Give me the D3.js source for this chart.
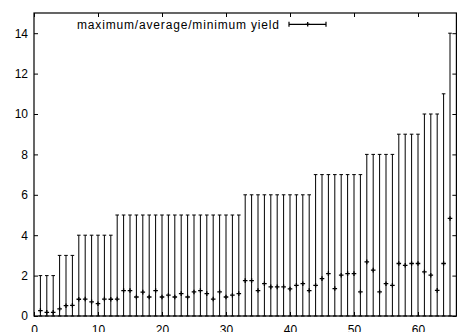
<!DOCTYPE html>
<html lang="en">
<head>
    <meta charset="UTF-8">
    <title>maximum/average/minimum yield</title>
    <script src="https://d3js.org/d3.v7.min.js"></script>
    <style>
        body { margin: 0; background: white; }
        svg { display: block; }
        .axis text { font-family: "Liberation Sans", Arial, sans-serif; font-size: 12px; fill: black; }
        .axis line { stroke: black; }
        .bar { stroke: black; stroke-width: 1; }
        .avg { stroke: black; stroke-width: 1.3; }
        .legend text { font-family: "Liberation Sans", Arial, sans-serif; font-size: 12px; }
    </style>
</head>
<body>
    <svg width="457" height="332"></svg>
    <script>
        const xs = [1, 2, 3, 4, 5, 6, 7, 8, 9, 10, 11, 12, 13, 14, 15, 16, 17, 18, 19, 20,
            21, 22, 23, 24, 25, 26, 27, 28, 29, 30, 31, 32, 33, 34, 35, 36, 37, 38, 39, 40,
            41, 42, 43, 44, 45, 46, 47, 48, 49, 50, 51, 52, 53, 54, 55, 56, 57, 58, 59, 60,
            61, 62, 63, 64, 65];

        const maxYield = [2, 2, 2, 3, 3, 3, 4, 4, 4, 4, 4, 4, 5, 5, 5, 5, 5, 5, 5, 5,
            5, 5, 5, 5, 5, 5, 5, 5, 5, 5, 5, 5, 6, 6, 6, 6, 6, 6, 6, 6,
            6, 6, 6, 7, 7, 7, 7, 7, 7, 7, 7, 8, 8, 8, 8, 8, 9, 9, 9, 9,
            10, 10, 10, 11, 14];

        const avgYield = [0.27, 0.18, 0.18, 0.35, 0.51, 0.53, 0.83, 0.84, 0.70, 0.61,
            0.84, 0.83, 0.84, 1.26, 1.26, 0.94, 1.18, 0.94, 1.26, 0.94,
            1.03, 0.94, 1.11, 0.94, 1.19, 1.26, 1.11, 0.84, 1.19, 0.94,
            1.03, 1.11, 1.75, 1.75, 1.26, 1.60, 1.44, 1.44, 1.44, 1.34,
            1.52, 1.60, 1.26, 1.52, 1.85, 2.10, 1.36, 2.02, 2.10, 2.10,
            1.19, 2.68, 2.27, 1.19, 1.60, 1.52, 2.60, 2.51, 2.60, 2.60,
            2.18, 2.02, 1.27, 2.60, 4.83];

        const minYield = [0, 0, 0, 0, 0, 0, 0, 0, 0, 0, 0, 0, 0, 0, 0, 0, 0, 0, 0, 0,
            0, 0, 0, 0, 0, 0, 0, 0, 0, 0, 0, 0, 0, 0, 0, 0, 0, 0, 0, 0,
            0, 0, 0, 0, 0, 0, 0, 0, 0, 0, 0, 0, 0, 0, 0, 0, 0, 0, 0, 0,
            0, 0, 0, 0, 0];

        const xTicks = [0, 10, 20, 30, 40, 50, 60];
        const yTicks = [0, 2, 4, 6, 8, 10, 12, 14];
        const legendLabel = "maximum/average/minimum yield";

        const data = xs.map((x, i) => ({x: x, max: maxYield[i], avg: avgYield[i], min: minYield[i]}));

        const svg = d3.select("svg");
        const margin = {top: 13, right: 0.6, bottom: 16, left: 34};
        const width = 457 - margin.left - margin.right;
        const height = 332 - margin.top - margin.bottom;
        const g = svg.append("g").attr("transform", `translate(${margin.left},${margin.top})`);

        const x = d3.scaleLinear().domain([0, 66]).range([0, width]);
        const y = d3.scaleLinear().domain([0, 15]).range([height, 0]);

        // gnuplot style: ticks point inward on all four sides
        g.append("g")
            .attr("class", "axis")
            .attr("transform", `translate(0,${height})`)
            .call(d3.axisBottom(x).tickValues(xTicks).tickSizeInner(-4).tickSizeOuter(0).tickPadding(9))
            .call(a => a.select(".domain").remove());

        g.append("g")
            .attr("class", "axis")
            .call(d3.axisLeft(y).tickValues(yTicks).tickSizeInner(-4).tickSizeOuter(0).tickPadding(6))
            .call(a => a.select(".domain").remove());

        g.append("g")
            .attr("class", "axis")
            .call(d3.axisTop(x).tickValues(xTicks).tickSizeInner(-4).tickSizeOuter(0).tickFormat(""))
            .call(a => a.select(".domain").remove());

        g.append("g")
            .attr("class", "axis")
            .attr("transform", `translate(${width},0)`)
            .call(d3.axisRight(y).tickValues(yTicks).tickSizeInner(-4).tickSizeOuter(0).tickFormat(""))
            .call(a => a.select(".domain").remove());

        const cap = 1.8;
        const bars = g.selectAll(".err").data(data).enter().append("g").attr("class", "err");

        bars.append("line")
            .attr("class", "bar")
            .attr("x1", d => x(d.x)).attr("x2", d => x(d.x))
            .attr("y1", d => y(d.min)).attr("y2", d => y(d.max));
        bars.append("line")
            .attr("class", "bar")
            .attr("x1", d => x(d.x) - cap).attr("x2", d => x(d.x) + cap)
            .attr("y1", d => y(d.max)).attr("y2", d => y(d.max));
        bars.append("line")
            .attr("class", "bar")
            .attr("x1", d => x(d.x) - cap).attr("x2", d => x(d.x) + cap)
            .attr("y1", d => y(d.min)).attr("y2", d => y(d.min));

        const pt = 2.3;
        bars.append("path")
            .attr("class", "avg")
            .attr("d", d => `M${x(d.x) - pt},${y(d.avg)}h${2 * pt}M${x(d.x)},${y(d.avg) - pt}v${2 * pt}`);

        // frame
        g.append("rect")
            .attr("width", width).attr("height", height)
            .attr("fill", "none").attr("stroke", "black").attr("stroke-width", 1.2);

        // legend
        const legend = svg.append("g").attr("class", "legend");
        legend.append("text")
            .attr("x", 77).attr("y", 28.5)
            .attr("textLength", 202).attr("lengthAdjust", "spacing")
            .text(legendLabel);
        const ly = 24.3;
        legend.append("path")
            .attr("fill", "none").attr("stroke", "black").attr("stroke-width", 1.2)
            .attr("d", `M289,${ly}H326M289,${ly - 2.5}v5M326,${ly - 2.5}v5`);
        legend.append("path")
            .attr("stroke", "black").attr("stroke-width", 1.3)
            .attr("d", `M${307.7 - pt},${ly}h${2 * pt}M307.7,${ly - pt}v${2 * pt}`);
    </script>
</body>
</html>
